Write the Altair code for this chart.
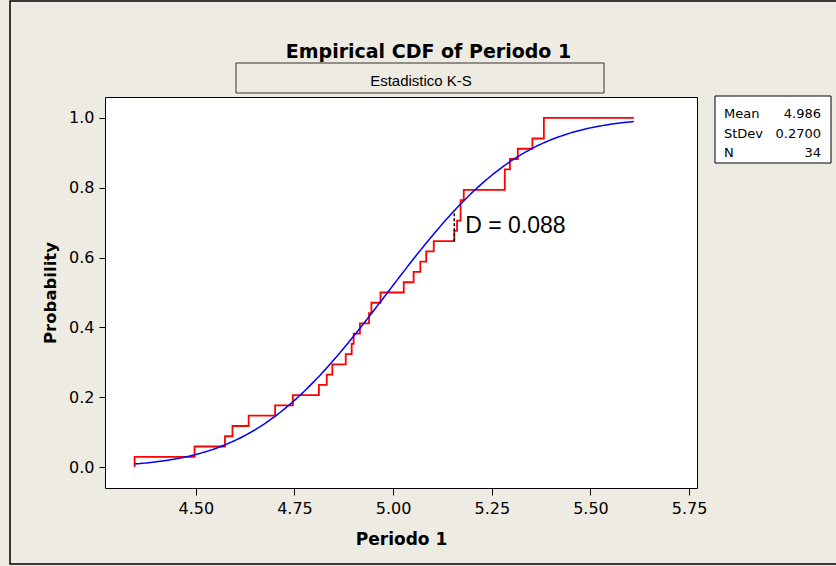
import altair as alt
import pandas as pd

# ---------------- data ----------------
TITLE = "Empirical CDF of Periodo 1"
SUBTITLE = "Estadistico K-S"
X_TITLE = "Periodo 1"
Y_TITLE = "Probability"

# sorted observations of "Periodo 1"
periodo1 = [4.345, 4.497, 4.574, 4.593, 4.634, 4.701, 4.746, 4.812, 4.832, 4.846,
            4.880, 4.895, 4.900, 4.916, 4.939, 4.945, 4.968, 5.027, 5.052, 5.069,
            5.084, 5.103, 5.155, 5.162, 5.171, 5.171, 5.179, 5.283, 5.283, 5.296,
            5.316, 5.353, 5.382, 5.382]
MEAN = 4.986
STDEV = 0.2700
N_OBS = len(periodo1)
KS_D = 0.088
KS_INDEX = 22          # observation at which the K-S gap is largest
CURVE_END = 5.61       # right end of the drawn CDFs

x_ticks = [4.50, 4.75, 5.00, 5.25, 5.50, 5.75]
y_ticks = [0.0, 0.2, 0.4, 0.6, 0.8, 1.0]
stat_labels = ["Mean", "StDev", "N"]
stat_values = ["4.986", "0.2700", "34"]

# ---------------- layout ----------------
FIG_W, FIG_H = 836, 566
LEFT, TOP = 105, 97
W, H = 592, 391
BG = "#EEEBE2"

# empirical CDF as a step line
ecdf = pd.DataFrame({
    "x": [periodo1[0]] + periodo1 + [CURVE_END],
    "p": [0.0] + [(i + 1) / N_OBS for i in range(N_OBS)] + [1.0],
})
ecdf["i"] = range(len(ecdf))

ks = pd.DataFrame({
    "x": [periodo1[KS_INDEX]],
    "p": [KS_INDEX / N_OBS],
    "p2": [KS_INDEX / N_OBS + KS_D],
    "label": [f"D = {KS_D:.3f}"],
})
ks["pm"] = (ks["p"] + ks["p2"]) / 2

x_scale = alt.Scale(domain=[4.27, 5.77], nice=False, zero=False)
y_scale = alt.Scale(domain=[-0.06, 1.06], nice=False, zero=False)

x_axis = alt.Axis(values=x_ticks, format=".2f", title=X_TITLE, grid=False, domain=False,
                  tickSize=7, tickColor="black", tickWidth=1,
                  labelFont="DejaVu Sans", labelFontSize=16, labelColor="black", labelPadding=5,
                  titleFont="DejaVu Sans", titleFontWeight="bold", titleFontSize=17,
                  titleColor="black", titleX=W / 2, titleY=56, titleAlign="center",
                  titleBaseline="alphabetic")
y_axis = alt.Axis(values=y_ticks, format=".1f", title=Y_TITLE, grid=False, domain=False,
                  tickSize=6, tickColor="black", tickWidth=1,
                  labelFont="DejaVu Sans", labelFontSize=16, labelColor="black", labelPadding=5,
                  titleFont="DejaVu Sans", titleFontWeight="bold", titleFontSize=16.5,
                  titleColor="black", titleX=-55, titleY=H / 2, titleAngle=270,
                  titleAlign="center", titleBaseline="middle")

X = alt.X("x:Q", scale=x_scale, axis=x_axis)
Y = alt.Y("p:Q", scale=y_scale, axis=y_axis)

one = pd.DataFrame({"k": [0]})

frame = alt.Chart(one).mark_rect(filled=False, stroke="black", strokeWidth=1.5).encode(
    x=alt.value(10 - LEFT), x2=alt.value(FIG_W + 10 - LEFT),
    y=alt.value(1 - TOP), y2=alt.value(564 - TOP))

ecdf_line = alt.Chart(ecdf).mark_line(color="#FF0000", strokeWidth=1.8,
                                      interpolate="step-after").encode(
    x=X, y=Y, order=alt.Order("i:Q"))

fit_line = alt.Chart(alt.sequence(periodo1[0], CURVE_END + 1e-9, 0.005, as_="x")).transform_calculate(
    p=f"cumulativeNormal(datum.x, {MEAN}, {STDEV})"
).mark_line(color="#0000FF", strokeWidth=1.5).encode(x=X, y=Y)

ks_rule = alt.Chart(ks).mark_rule(color="black", strokeWidth=1.5, strokeDash=[3, 2]).encode(
    x=X, y=Y, y2="p2:Q")

ks_text = alt.Chart(ks).mark_text(align="left", baseline="alphabetic", dx=11, dy=7.5,
                                  font="Liberation Sans", fontSize=23, color="black").encode(
    x=X, y=alt.Y("pm:Q", scale=y_scale, axis=y_axis), text="label:N")

title = alt.Chart(one).mark_text(font="DejaVu Sans", fontWeight="bold", fontSize=19,
                                 align="center", baseline="alphabetic", color="black").encode(
    x=alt.value(428.5 - LEFT), y=alt.value(57.5 - TOP), text=alt.value(TITLE))

sub_box = alt.Chart(one).mark_rect(fill=BG, stroke="#333333", strokeWidth=1).encode(
    x=alt.value(236 - LEFT), x2=alt.value(604 - LEFT),
    y=alt.value(63 - TOP), y2=alt.value(93 - TOP))

sub_text = alt.Chart(one).mark_text(font="Liberation Sans", fontSize=15, align="center",
                                    baseline="alphabetic", color="black").encode(
    x=alt.value(421 - LEFT), y=alt.value(86 - TOP), text=alt.value(SUBTITLE))

stat_box = alt.Chart(one).mark_rect(fill="white", stroke="black", strokeWidth=1).encode(
    x=alt.value(715 - LEFT), x2=alt.value(831 - LEFT),
    y=alt.value(96 - TOP), y2=alt.value(163 - TOP))

stat_names = alt.Chart(one).mark_text(font="DejaVu Sans", fontSize=13, align="left",
                                      baseline="alphabetic", lineBreak="\n", lineHeight=19.5,
                                      color="black").encode(
    x=alt.value(724 - LEFT), y=alt.value(118 - TOP), text=alt.value("\n".join(stat_labels)))

stat_nums = alt.Chart(one).mark_text(font="DejaVu Sans", fontSize=13, align="right",
                                     baseline="alphabetic", lineBreak="\n", lineHeight=19.5,
                                     color="black").encode(
    x=alt.value(821 - LEFT), y=alt.value(118 - TOP), text=alt.value("\n".join(stat_values)))

chart = alt.layer(
    ecdf_line, fit_line, ks_rule, ks_text,
    frame, title, sub_box, sub_text, stat_box, stat_names, stat_nums,
).properties(
    width=W, height=H, background=BG,
    autosize=alt.AutoSizeParams(type="none"),
    padding={"left": LEFT, "top": TOP, "right": FIG_W - LEFT - W, "bottom": FIG_H - TOP - H},
).configure_view(fill="white", stroke="black", strokeWidth=1)

chart.save("out.html", embed_options={"renderer": "svg", "actions": False})
